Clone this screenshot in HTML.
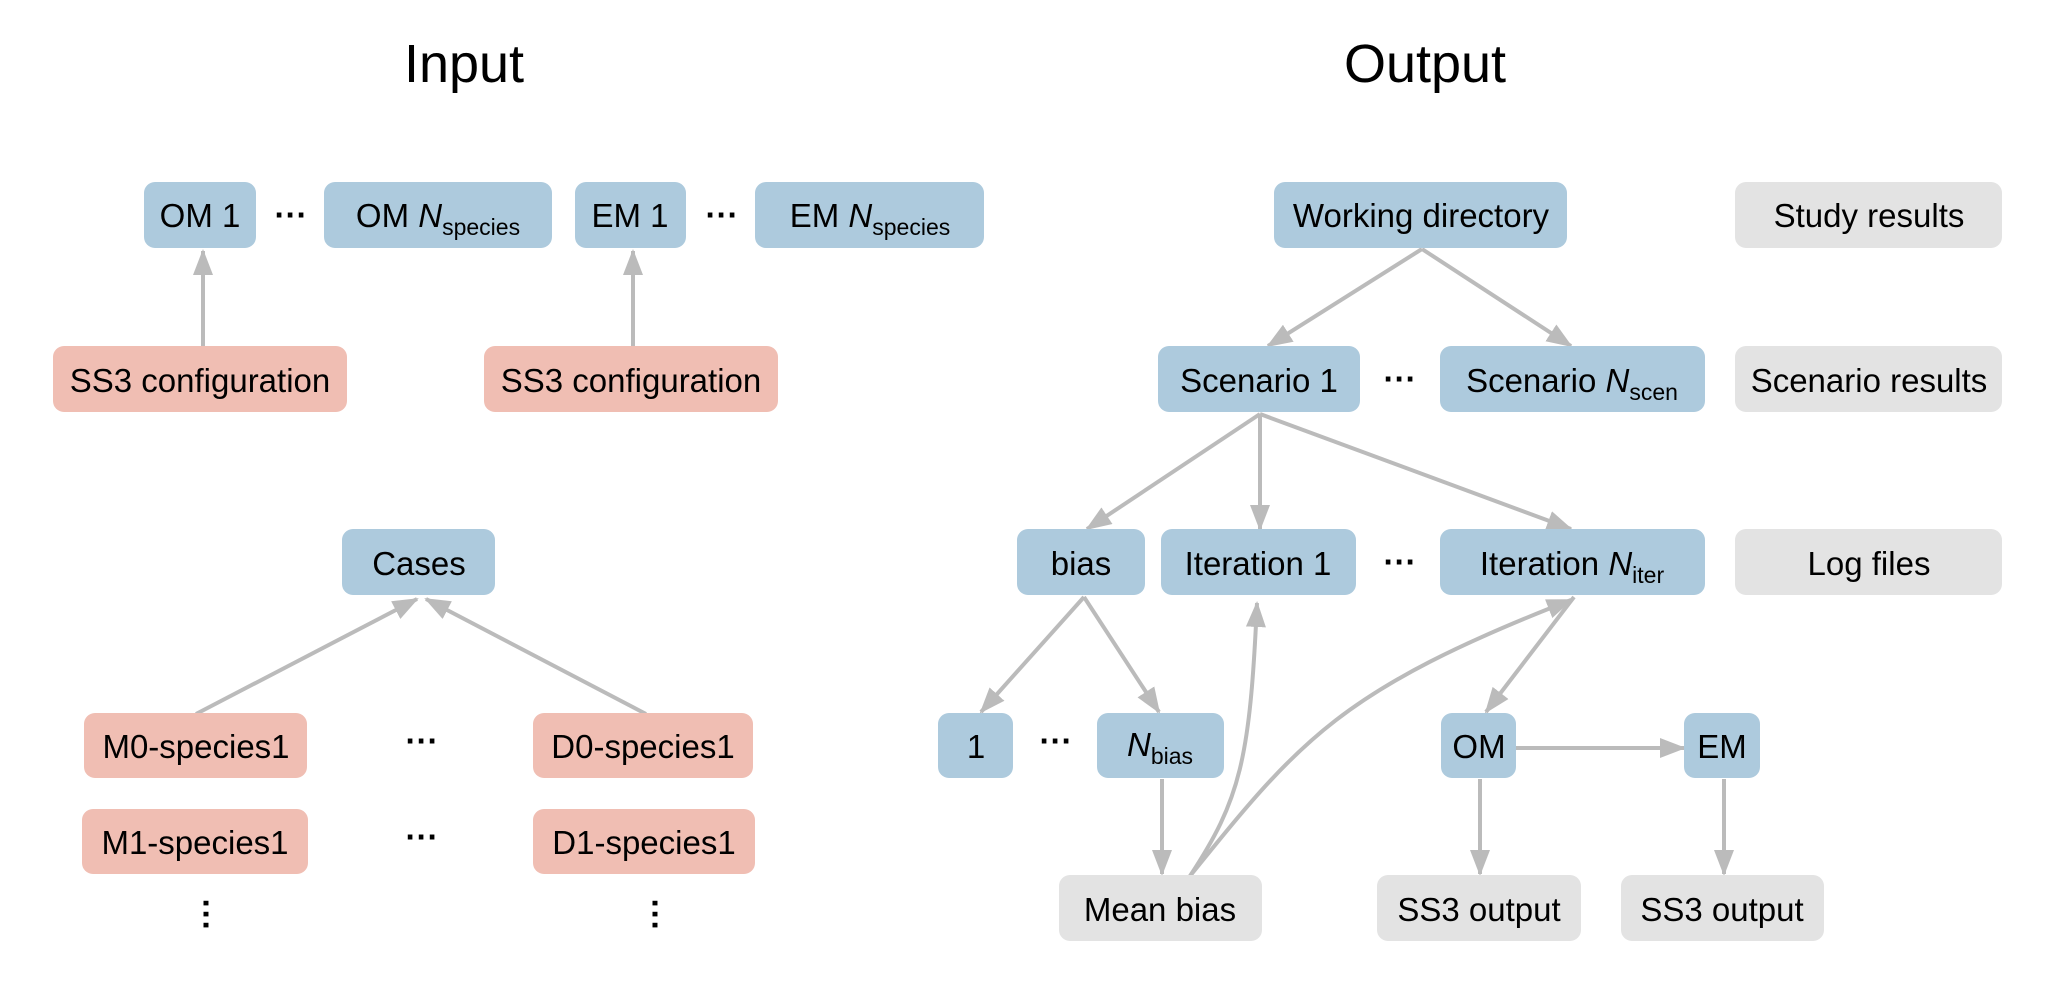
<!DOCTYPE html>
<html><head><meta charset="utf-8"><style>
html,body{margin:0;padding:0;background:#fff;}
svg{display:block}
text{font-family:"Liberation Sans",Arial,sans-serif;fill:#000;}
</style></head><body>
<svg width="2050" height="1000" viewBox="0 0 2050 1000" xmlns="http://www.w3.org/2000/svg">
<defs>
<marker id="a" markerWidth="26" markerHeight="20" refX="24" refY="10" orient="auto" markerUnits="userSpaceOnUse">
<path d="M0,0 L26,10 L0,20 Z" fill="#bbbbbb"/>
</marker>
</defs>
<text x="464" y="82" font-size="54" text-anchor="middle">Input</text>
<text x="1425" y="82" font-size="54" text-anchor="middle">Output</text>

<g fill="none" stroke="#bbbbbb" stroke-width="4" marker-end="url(#a)">
<line x1="203" y1="347" x2="203" y2="251"/>
<line x1="633" y1="347" x2="633" y2="251"/>
<line x1="196" y1="714" x2="417" y2="599"/>
<line x1="646" y1="714" x2="426" y2="599"/>
<line x1="1422" y1="249" x2="1268" y2="346"/>
<line x1="1422" y1="249" x2="1571" y2="346"/>
<line x1="1260" y1="414" x2="1087" y2="529"/>
<line x1="1260" y1="414" x2="1260" y2="529"/>
<line x1="1260" y1="414" x2="1571" y2="529"/>
<line x1="1084" y1="597" x2="981" y2="712"/>
<line x1="1084" y1="597" x2="1159" y2="712"/>
<line x1="1574" y1="597" x2="1486" y2="712"/>
<line x1="1162" y1="779" x2="1162" y2="874"/>
<line x1="1516" y1="748" x2="1684" y2="748"/>
<line x1="1480" y1="779" x2="1480" y2="874"/>
<line x1="1724" y1="779" x2="1724" y2="874"/>
<path d="M1190,876 C1240,800 1250,760 1257,603"/>
<path d="M1190,876 C1300,740 1340,690 1571,600"/>
</g>

<g font-size="33" text-anchor="middle">
<rect x="144" y="182" width="112" height="66" rx="11" fill="#adcadd"/><text x="200" y="227">OM 1</text>
<rect x="324" y="182" width="228" height="66" rx="11" fill="#adcadd"/><text x="438" y="227">OM <tspan font-style="italic">N</tspan><tspan font-size="23" dy="8">species</tspan></text>
<rect x="575" y="182" width="111" height="66" rx="11" fill="#adcadd"/><text x="630" y="227">EM 1</text>
<rect x="755" y="182" width="229" height="66" rx="11" fill="#adcadd"/><text x="870" y="227">EM <tspan font-style="italic">N</tspan><tspan font-size="23" dy="8">species</tspan></text>
<g font-weight="bold"><text x="291" y="226">···</text><text x="722" y="226">···</text></g>
<rect x="53" y="346" width="294" height="66" rx="11" fill="#f0beb3"/><text x="200" y="392">SS3 configuration</text>
<rect x="484" y="346" width="294" height="66" rx="11" fill="#f0beb3"/><text x="631" y="392">SS3 configuration</text>
<rect x="342" y="529" width="153" height="66" rx="11" fill="#adcadd"/><text x="419" y="575">Cases</text>
<rect x="84" y="713" width="223" height="65" rx="11" fill="#f0beb3"/><text x="196" y="758">M0-species1</text>
<rect x="533" y="713" width="220" height="65" rx="11" fill="#f0beb3"/><text x="643" y="758">D0-species1</text>
<rect x="82" y="809" width="226" height="65" rx="11" fill="#f0beb3"/><text x="195" y="854">M1-species1</text>
<rect x="533" y="809" width="222" height="65" rx="11" fill="#f0beb3"/><text x="644" y="854">D1-species1</text>
<g font-weight="bold">
<text x="422" y="752">···</text><text x="422" y="848">···</text>
<text x="208" y="928" transform="rotate(90 208 915)">···</text>
<text x="657" y="928" transform="rotate(90 657 915)">···</text>
<text x="1400" y="390">···</text>
<text x="1400" y="573">···</text>
<text x="1056" y="752">···</text>
</g>
<rect x="1274" y="182" width="293" height="66" rx="11" fill="#adcadd"/><text x="1421" y="227">Working directory</text>
<rect x="1735" y="182" width="267" height="66" rx="11" fill="#e3e3e3"/><text x="1869" y="227">Study results</text>
<rect x="1158" y="346" width="202" height="66" rx="11" fill="#adcadd"/><text x="1259" y="392">Scenario 1</text>
<rect x="1440" y="346" width="265" height="66" rx="11" fill="#adcadd"/><text x="1572" y="392">Scenario <tspan font-style="italic">N</tspan><tspan font-size="23" dy="8">scen</tspan></text>
<rect x="1735" y="346" width="267" height="66" rx="11" fill="#e3e3e3"/><text x="1869" y="392">Scenario results</text>
<rect x="1017" y="529" width="128" height="66" rx="11" fill="#adcadd"/><text x="1081" y="575">bias</text>
<rect x="1161" y="529" width="195" height="66" rx="11" fill="#adcadd"/><text x="1258" y="575">Iteration 1</text>
<rect x="1440" y="529" width="265" height="66" rx="11" fill="#adcadd"/><text x="1572" y="575">Iteration <tspan font-style="italic">N</tspan><tspan font-size="23" dy="8">iter</tspan></text>
<rect x="1735" y="529" width="267" height="66" rx="11" fill="#e3e3e3"/><text x="1869" y="575">Log files</text>
<rect x="938" y="713" width="75" height="65" rx="11" fill="#adcadd"/><text x="976" y="758">1</text>
<rect x="1097" y="713" width="127" height="65" rx="11" fill="#adcadd"/><text x="1160" y="756"><tspan font-style="italic">N</tspan><tspan font-size="23" dy="8">bias</tspan></text>
<rect x="1441" y="713" width="75" height="65" rx="11" fill="#adcadd"/><text x="1479" y="758">OM</text>
<rect x="1684" y="713" width="76" height="65" rx="11" fill="#adcadd"/><text x="1722" y="758">EM</text>
<rect x="1059" y="875" width="203" height="66" rx="11" fill="#e3e3e3"/><text x="1160" y="921">Mean bias</text>
<rect x="1377" y="875" width="204" height="66" rx="11" fill="#e3e3e3"/><text x="1479" y="921">SS3 output</text>
<rect x="1621" y="875" width="203" height="66" rx="11" fill="#e3e3e3"/><text x="1722" y="921">SS3 output</text>
</g>
</svg>
</body></html>
